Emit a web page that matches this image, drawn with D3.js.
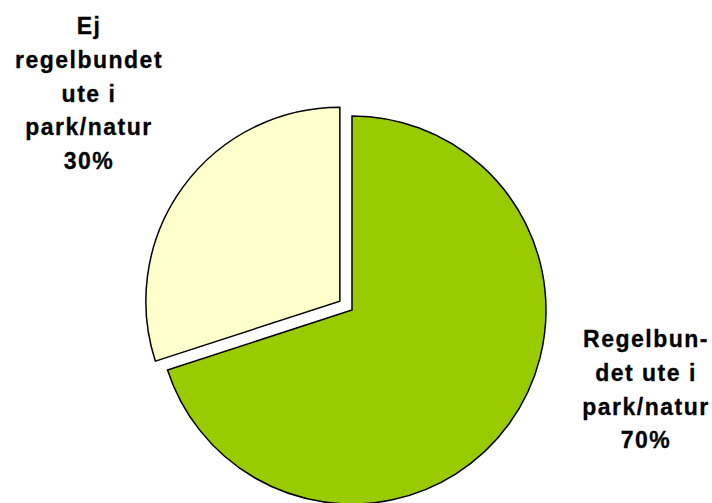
<!DOCTYPE html>
<html><head><meta charset="utf-8">
<script src="https://cdn.jsdelivr.net/npm/d3@7"></script>
<style>
html,body{margin:0;padding:0;background:#fff;overflow:hidden;}
svg{display:block;}
text{font-family:"Liberation Sans",Arial,sans-serif;font-weight:bold;fill:#000;}
</style></head>
<body>
<script>
const categories = ["Regelbundet ute i park/natur", "Ej regelbundet ute i park/natur"];
const values = [70, 30];
const labelLines = [
  ["Regelbun-", "det ute i", "park/natur", "70%"],
  ["Ej", "regelbundet", "ute i", "park/natur", "30%"]
];
const colors = ["#99CC00", "#FFFFCC"];
const exploded = [false, true];

const W = 712, H = 503;
const cx = 352, cy = 310, R = 194, explode = 15;

const svg = d3.select("body").append("svg").attr("width", W).attr("height", H);

const pie = d3.pie().sort(null).value(d => d.value).startAngle(0).endAngle(2 * Math.PI);
const arcs = pie(values.map((v, i) => ({ value: v, i })));
const arc = d3.arc().innerRadius(0).outerRadius(R);

const g = svg.append("g").attr("transform", `translate(${cx},${cy})`);
g.selectAll("path").data(arcs).join("path")
  .attr("d", arc)
  .attr("fill", d => colors[d.data.i])
  .attr("stroke", "#000")
  .attr("stroke-width", 1.5)
  .attr("stroke-linejoin", "miter")
  .attr("transform", d => {
    if (!exploded[d.data.i]) return null;
    const a = (d.startAngle + d.endAngle) / 2;
    return `translate(${explode * Math.sin(a)},${-explode * Math.cos(a)})`;
  });

// label anchor positions (first baseline)
const labelPos = [[89, 34], [646, 347]];
const labelOf = [1, 0];
const lineH = 33.8;
labelLines.forEach((lines, i) => {
  const p = i === 0 ? labelPos[1] : labelPos[0];
  const t = svg.append("text")
    .attr("text-anchor", "middle")
    .attr("font-size", 23)
    .attr("letter-spacing", 1.5)
    .attr("stroke", "#000")
    .attr("stroke-width", 0.3)
    .attr("x", p[0]).attr("y", p[1]);
  lines.forEach((ln, k) => {
    t.append("tspan").attr("x", p[0]).attr("y", p[1] + k * lineH).text(ln);
  });
});
</script>
</body></html>
